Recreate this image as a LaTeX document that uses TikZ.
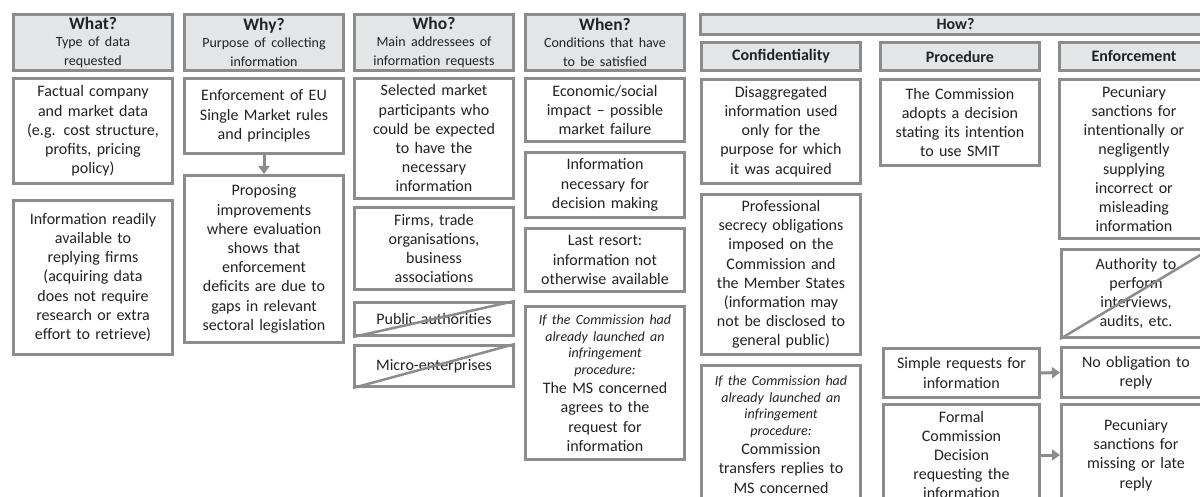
\documentclass[tikz,border=0pt]{standalone}
\usepackage{fontspec}
\setmainfont{Carlito}
\usetikzlibrary{arrows.meta, positioning}
\definecolor{bordgray}{HTML}{8C8C8C}
\definecolor{headfill}{HTML}{E4E5E7}
\definecolor{txtgray}{HTML}{222222}
\tikzset{cbox/.style={draw=bordgray,line width=3pt,fill=white,anchor=north west,minimum width=159pt,
                      text width=150pt,align=center,inner sep=0pt,text=txtgray,font=\fontsize{16}{19.2}\selectfont},
         hbox/.style={cbox,fill=headfill},
         ebox/.style={cbox,minimum width=149pt,text width=140pt},
         garrow/.style={draw=bordgray,line width=3pt,-{Triangle[width=11pt,length=8pt]}},
         strike/.style={draw=bordgray,line width=2.5pt}}

\begin{document}
\begin{tikzpicture}[x=1pt,y=-1pt]
        \path[use as bounding box,fill=white](0,0)rectangle(1200,497);
        \clip(0,0)rectangle(1200,497);

        \node[hbox,minimum height=56pt](h1)at(12,13){{\bfseries\fontsize{17.5}{21}\selectfont What?\par}\fontsize{14}{17}\selectfont Type of data\\requested};
        \node[cbox,minimum height=105pt](w1)at(12,77){Factual company\\and market data\\(e.g. cost structure,\\profits, pricing\\policy)};
        \node[cbox,minimum height=154pt](w2)at(12,199){Information readily\\available to\\replying firms\\(acquiring data\\does not require\\research or extra\\effort to retrieve)};

        \node[hbox,minimum height=56pt](h2)at(183,13){{\bfseries\fontsize{17.5}{21}\selectfont Why?\par}\fontsize{14}{17}\selectfont Purpose of collecting\\information};
        \node[cbox,minimum height=75pt](y1)at(183,77){Enforcement of EU\\Single Market rules\\and principles};
        \node[cbox,minimum height=167pt](y2)at(183,174){Proposing\\improvements\\where evaluation\\shows that\\enforcement\\deficits are due to\\gaps in relevant\\sectoral legislation};

        \node[hbox,minimum height=56pt](h3)at(353,13){{\bfseries\fontsize{17.5}{21}\selectfont Who?\par}\fontsize{14}{17}\selectfont Main addressees of\\information requests};
        \node[cbox,minimum height=120pt](o1)at(353,77){Selected market\\participants who\\could be expected\\to have the\\necessary\\information};
        \node[cbox,minimum height=82pt](o2)at(353,206){Firms, trade\\organisations,\\business\\associations};
        \node[cbox,minimum height=33pt](o3)at(353,301){Public authorities};
        \node[cbox,minimum height=41pt](o4)at(353,344){Micro-enterprises};

        \node[hbox,minimum height=56pt](h4)at(524,13){{\bfseries\fontsize{17.5}{21}\selectfont When?\par}\fontsize{14}{17}\selectfont Conditions that have\\to be satisfied};
        \node[cbox,minimum height=63pt](n1)at(524,77){Economic/social\\impact -- possible\\market failure};
        \node[cbox,minimum height=65pt](n2)at(524,151){Information\\necessary for\\decision making};
        \node[cbox,minimum height=63pt](n3)at(524,227){Last resort:\\information not\\otherwise available};
        \node[cbox,minimum height=153pt](n4)at(524,305){{\itshape\fontsize{14}{16.7}\selectfont If the Commission had\\already launched an\\infringement\\procedure:\par}The MS concerned\\agrees to the\\request for\\information};

        \node[hbox,minimum width=510pt,text width=500pt,minimum height=20pt,font=\bfseries\fontsize{16}{19.2}\selectfont](hw)at(699,13){How?};
        \node[hbox,minimum height=28pt,font=\bfseries\fontsize{16}{19.2}\selectfont](c0)at(700,41){Confidentiality};
        \node[hbox,minimum height=28pt,font=\bfseries\fontsize{16}{19.2}\selectfont](p0)at(879,41){Procedure};
        \node[hbox,ebox,fill=headfill,minimum height=28pt,font=\bfseries\fontsize{16}{19.2}\selectfont](e0)at(1058,41){Enforcement};

        \node[cbox,minimum height=104pt](c1)at(700,78){Disaggregated\\information used\\only for the\\purpose for which\\it was acquired};
        \node[cbox,minimum height=160pt](c2)at(700,193){Professional\\secrecy obligations\\imposed on the\\Commission and\\the Member States\\(information may\\not be disclosed to\\general public)};
        \node[cbox,minimum height=138pt](c3)at(700,364){{\itshape\fontsize{14}{16.7}\selectfont If the Commission had\\already launched an\\infringement\\procedure:\par}Commission\\transfers replies to\\MS concerned};

        \node[cbox,minimum height=86pt](p1)at(879,78){The Commission\\adopts a decision\\stating its intention\\to use SMIT};
        \node[cbox,minimum width=156pt,minimum height=49pt](p2)at(882,347){Simple requests for\\information};
        \node[cbox,minimum width=156pt,minimum height=101pt](p3)at(882,403){Formal\\Commission\\Decision\\requesting the\\information};

        \node[ebox,minimum height=159pt](e1)at(1058,78){Pecuniary\\sanctions for\\intentionally or\\negligently\\supplying\\incorrect or\\misleading\\information};
        \node[ebox,minimum height=88pt](e2)at(1060,248){Authority to\\perform\\interviews,\\audits, etc.};
        \node[ebox,minimum height=50pt](e3)at(1060,346){No obligation to\\reply};
        \node[ebox,minimum height=101pt](e4)at(1060,403){Pecuniary\\sanctions for\\missing or late\\reply};

        \draw[garrow](y1.270)--(y2.90);
        \draw[garrow](p2.0)--(e3.180);
        \draw[garrow](p3.0)--(e4.180);

        \draw[strike](o3.south west)--(o3.north east);
        \draw[strike](o4.south west)--(o4.north east);
        \draw[strike](e2.south west)--(e2.north east);
    \end{tikzpicture}
\end{document}
